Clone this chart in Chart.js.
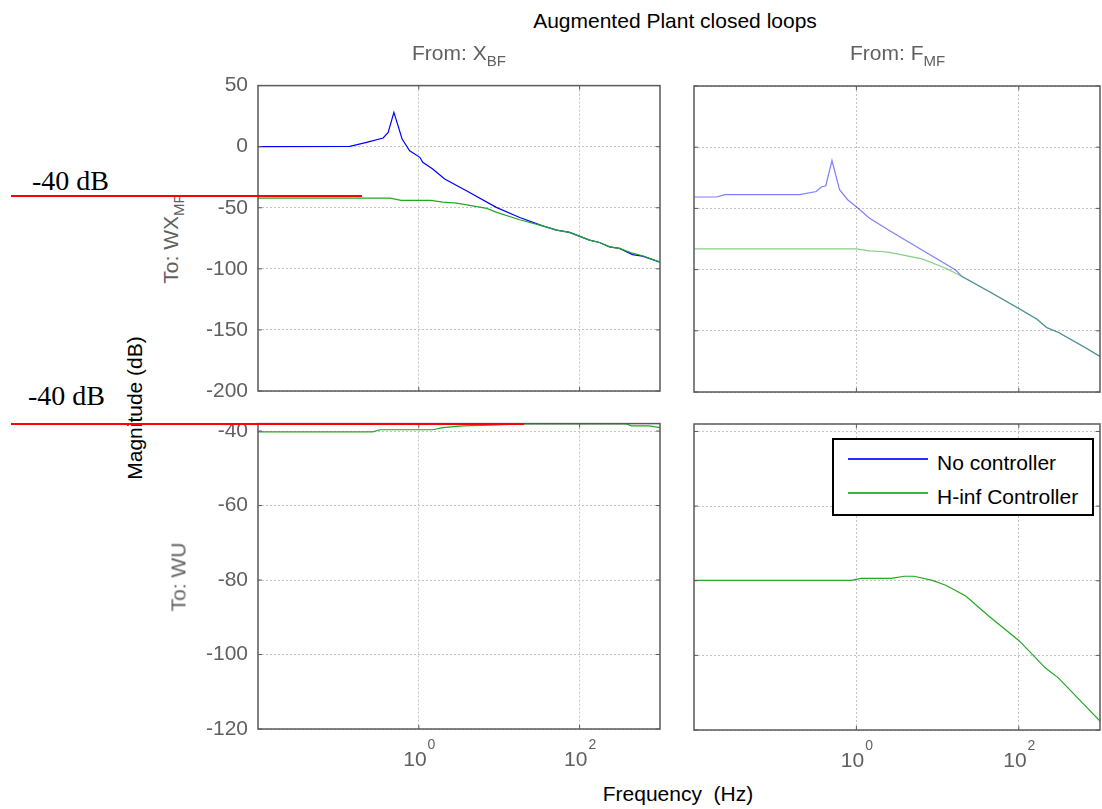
<!DOCTYPE html>
<html>
<head>
<meta charset="utf-8">
<script src="https://cdn.jsdelivr.net/npm/chart.js@4.4.1/dist/chart.umd.min.js"></script>
<style>
  html, body { margin: 0; padding: 0; background: #fff; width: 1102px; height: 809px; overflow: hidden; }
  body { position: relative; font-family: "Liberation Sans", Arial, sans-serif; }
  canvas { position: absolute; }
  .lbl { position: absolute; white-space: pre; font-size: 21px; line-height: 21px; z-index: 5; }
  .gray { color: #606060; }
  .rot { transform: translate(-50%, -50%) rotate(-90deg); }
  .ctr { transform: translateX(-50%); }
  .sub { position: relative; top: 6px; font-size: 15px; }
  .serif { font-family: "Liberation Serif", "Times New Roman", serif; font-size: 28px; line-height: 28px; color: #000; }
  .redline { position: absolute; height: 2px; background: #ff0000; z-index: 6; }
  #legend { position: absolute; left: 832px; top: 438px; width: 258px; height: 74px; border: 2px solid #000; background: #fff; z-index: 7; }
  #legend .sample { position: absolute; left: 14px; width: 80px; height: 2px; }
  #legend .txt { position: absolute; left: 103px; font-size: 21px; line-height: 21px; white-space: nowrap; color: #000; }
</style>
</head>
<body>

<div class="lbl ctr" style="left:675px; top:10px; color:#000;">Augmented Plant closed loops</div>
<div class="lbl gray" style="left:412px; top:42px;">From: X<span class="sub">BF</span></div>
<div class="lbl gray" style="left:850px; top:42px;">From: F<span class="sub">MF</span></div>
<div class="lbl gray rot" style="left:171px; top:239px;">To: WX<span class="sub">MF</span></div>
<div class="lbl gray rot" style="left:178px; top:577px;">To: WU</div>
<div class="lbl rot" style="left:134px; top:408px; color:#000;">Magnitude (dB)</div>
<div class="lbl ctr" style="left:678px; top:783px; color:#000;">Frequency  (Hz)</div>

<div class="lbl serif" style="left:32px; top:167px;">-40 dB</div>
<div class="lbl serif" style="left:28px; top:382px;">-40 dB</div>
<div class="redline" style="left:11px; top:195px; width:351px;"></div>
<div class="redline" style="left:11px; top:423px; width:513px;"></div>

<div id="legend">
  <div class="sample" style="top:18px; background:#2a2aff;"></div>
  <div class="txt" style="top:12px;">No controller</div>
  <div class="sample" style="top:52px; background:#3cb43c;"></div>
  <div class="txt" style="top:46px;">H-inf Controller</div>
</div>

<script>
// frequency (Hz) / magnitude (dB)
const freqTopLeftNoCtrl = [0.01, 0.139, 0.224, 0.36, 0.416, 0.49, 0.62, 0.77, 1.03, 1.12, 1.49, 2.1, 3.91, 9.2, 18, 34.7, 51.8, 75, 133, 177, 236, 314, 455, 607, 1000];
const magTopLeftNoCtrl  = [0, 0.2, 3.5, 7.1, 11.7, 28.1, 6.3, -3.3, -8.7, -12.8, -18.3, -26.5, -36, -49.7, -58, -64.8, -68.3, -70.2, -76.5, -78.4, -82, -83.3, -88.3, -89.6, -94.5];
const freqTopLeftHinf = [0.01, 0.44, 0.6, 1.4, 2.0, 2.97, 7.0, 9.3, 18, 34.7, 51.8, 75, 133, 177, 236, 314, 455, 607, 1000];
const magTopLeftHinf  = [-42.1, -42.1, -43.9, -43.9, -45.4, -46.2, -50.5, -53.8, -59.8, -64.8, -68.3, -70.2, -76.5, -78.4, -82, -83.3, -87.2, -89.3, -94.5];

const freqTopRightNoCtrl = [0.01, 0.019, 0.024, 0.2, 0.32, 0.37, 0.42, 0.5, 0.62, 0.78, 1.04, 1.44, 2.6, 16.7, 20, 47, 100, 166, 220, 309, 713, 1000];
const magTopRightNoCtrl  = [-40.7, -40.7, -38.8, -38.8, -36.2, -32.5, -31.5, -10.9, -34.7, -42.9, -49.7, -57.9, -68.5, -100.3, -105.7, -119.4, -131.7, -140.4, -147.3, -151.4, -165, -171];
const freqTopRightHinf = [0.01, 1.0, 1.44, 2.0, 2.54, 6.45, 12.6, 20, 47, 100, 166, 220, 309, 713, 1000];
const magTopRightHinf  = [-83.1, -83.1, -84.7, -85.2, -86, -91.3, -98.9, -105.7, -119.4, -131.7, -140.4, -147.3, -151.4, -165, -171];

const freqBottomLeftHinf = [0.01, 0.268, 0.33, 1.49, 2.0, 3.5, 7.6, 19.6, 383, 441, 738, 1000];
const magBottomLeftHinf  = [-40.2, -40.2, -39.65, -39.65, -39.1, -38.6, -38.4, -38.1, -38.1, -38.6, -38.6, -39.1];

const freqBottomRightHinf = [0.01, 0.86, 1.14, 2.67, 3.88, 5.15, 8.6, 12.6, 22.2, 42.9, 100, 213, 309, 1000];
const magBottomRightHinf  = [-79.9, -79.9, -79.35, -79.35, -78.8, -78.8, -79.9, -81.2, -84.1, -89.5, -96.0, -103.4, -106.1, -117.6];

const yTicksTop = [50, 0, -50, -100, -150, -200];
const yTicksBottom = [-40, -60, -80, -100, -120];
const xTickValues = [1, 100];
const xTickExponents = ['0', '2'];

const YW = 70, PT = 14, PR = 2, XH = 50;

const toPoints = (f, m) => f.map((v, i) => ({ x: v, y: m[i] }));

const boxPlugin = {
    id: 'matlabBox',
    afterDraw(chart) {
        const { ctx, chartArea: a, scales } = chart;
        ctx.save();
        ctx.strokeStyle = '#5a5a5a';
        ctx.lineWidth = 1.5;
        ctx.strokeRect(a.left, a.top, a.right - a.left, a.bottom - a.top);
        // small inward tick marks like matlab
        ctx.lineWidth = 1;
        scales.y.ticks.forEach(t => {
            const y = scales.y.getPixelForValue(t.value);
            ctx.beginPath();
            ctx.moveTo(a.left, y); ctx.lineTo(a.left + 4, y);
            ctx.moveTo(a.right, y); ctx.lineTo(a.right - 4, y);
            ctx.stroke();
        });
        scales.x.ticks.forEach(t => {
            const x = scales.x.getPixelForValue(t.value);
            ctx.beginPath();
            ctx.moveTo(x, a.bottom); ctx.lineTo(x, a.bottom - 4);
            ctx.moveTo(x, a.top); ctx.lineTo(x, a.top + 4);
            ctx.stroke();
        });
        if (chart.options.plugins.matlabBox.xLabels) {
            ctx.fillStyle = '#606060';
            ctx.textBaseline = 'alphabetic';
            xTickValues.forEach((v, i) => {
                const x = scales.x.getPixelForValue(v);
                ctx.font = '21px "Liberation Sans", Arial, sans-serif';
                const w1 = ctx.measureText('10').width;
                ctx.font = '14px "Liberation Sans", Arial, sans-serif';
                const w2 = ctx.measureText(xTickExponents[i]).width;
                const x0 = x - (w1 + w2) / 2;
                ctx.font = '21px "Liberation Sans", Arial, sans-serif';
                ctx.fillText('10', x0, a.bottom + 37);
                ctx.font = '14px "Liberation Sans", Arial, sans-serif';
                ctx.fillText(xTickExponents[i], x0 + w1 + 1, a.bottom + 20);
            });
        }
        ctx.restore();
    }
};

function buildChart(cv, datasets, yTicks, yMin, yMax, showY, showX) {
    const gridOpts = { color: '#c4c4c4', lineWidth: 1, drawTicks: false };
    return new Chart(cv.getContext('2d'), {
        type: 'line',
        data: { datasets },
        options: {
            responsive: false, maintainAspectRatio: false, animation: false, devicePixelRatio: 1,
            layout: { padding: { top: PT, right: PR, left: 0, bottom: 0 } },
            plugins: { legend: { display: false }, tooltip: { enabled: false }, matlabBox: { xLabels: showX } },
            scales: {
                x: {
                    type: 'logarithmic', min: 0.01, max: 1000,
                    afterBuildTicks: s => { s.ticks = xTickValues.map(v => ({ value: v })); },
                    afterFit: s => { s.height = XH; },
                    ticks: { display: false },
                    grid: gridOpts,
                    border: { display: false, dash: [2, 2] }
                },
                y: {
                    type: 'linear', min: yMin, max: yMax,
                    afterBuildTicks: s => { s.ticks = yTicks.map(v => ({ value: v })); },
                    afterFit: s => { s.width = YW; },
                    ticks: { display: showY, padding: 10, color: '#606060', font: { family: 'Liberation Sans', size: 21 } },
                    grid: gridOpts,
                    border: { display: false, dash: [2, 2] }
                }
            }
        },
        plugins: [boxPlugin]
    });
}

function makeChart(panel, datasets, yTicks, yMin, yMax, showY, showX) {
    const pw = panel.right - panel.left, ph = panel.bottom - panel.top;
    let w = pw + YW + PR, h = ph + PT + XH;
    let cv = document.createElement('canvas');
    cv.width = w; cv.height = h;
    document.body.appendChild(cv);
    let chart = buildChart(cv, datasets, yTicks, yMin, yMax, showY, showX);
    // grow the canvas so the plot area has exactly the panel size
    const a = chart.chartArea;
    const dw = pw - (a.right - a.left), dh = ph - (a.bottom - a.top);
    if (dw !== 0 || dh !== 0) {
        chart.destroy();
        cv.remove();
        cv = document.createElement('canvas');
        cv.width = w + dw; cv.height = h + dh;
        document.body.appendChild(cv);
        chart = buildChart(cv, datasets, yTicks, yMin, yMax, showY, showX);
    }
    const b = chart.chartArea;
    cv.style.left = (panel.left - b.left) + 'px';
    cv.style.top = (panel.top - b.top) + 'px';
    return chart;
}

const line = (data, color, order) => ({ data, borderColor: color, borderWidth: 1.2, pointRadius: 0, fill: false, tension: 0, order });

makeChart({ left: 258, top: 86, right: 660, bottom: 392 }, [
    line(toPoints(freqTopLeftNoCtrl, magTopLeftNoCtrl), '#0000ff', 1),
    line(toPoints(freqTopLeftHinf, magTopLeftHinf), '#21a821', 0)
], yTicksTop, -200, 50, true, false);

makeChart({ left: 694, top: 86, right: 1100, bottom: 392 }, [
    line(toPoints(freqTopRightNoCtrl, magTopRightNoCtrl), 'rgba(0,0,255,0.5)', 1),
    line(toPoints(freqTopRightHinf, magTopRightHinf), 'rgba(33,168,33,0.55)', 0)
], yTicksTop, -200, 50, false, false);

makeChart({ left: 258, top: 424, right: 660, bottom: 730 }, [
    line(toPoints(freqBottomLeftHinf, magBottomLeftHinf), '#21a821', 0)
], yTicksBottom, -120, -38, true, true);

makeChart({ left: 694, top: 424, right: 1100, bottom: 730 }, [
    line(toPoints(freqBottomRightHinf, magBottomRightHinf), '#21a821', 0)
], yTicksBottom, -120, -38, false, true);
</script>
</body>
</html>
